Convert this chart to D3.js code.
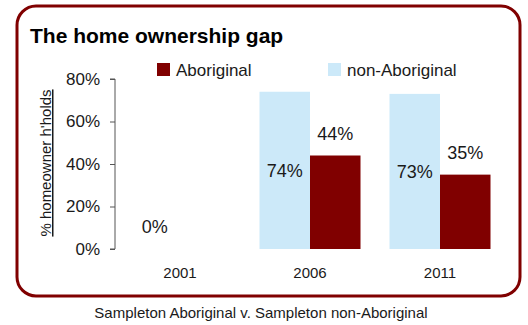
<!DOCTYPE html>
<html>
<head>
<meta charset="utf-8">
<script src="https://cdn.jsdelivr.net/npm/d3@7"></script>
<style>
  html, body { margin: 0; padding: 0; background: #fff; }
  svg { display: block; font-family: "Liberation Sans", Arial, Helvetica, sans-serif; }
</style>
</head>
<body>
<svg id="chart" width="528" height="325"></svg>
<script>
// Census years and home-ownership shares
const years = ["2001", "2006", "2011"];
const nonAboriginal = [0, 0.74, 0.73];
const aboriginal = [0, 0.44, 0.35];
const seriesNames = ["non-Aboriginal", "Aboriginal"];
const yTicks = [0, 0.2, 0.4, 0.6, 0.8];

const colors = { "Aboriginal": "#800000", "non-Aboriginal": "#cce9f9" };
const textColor = "#1a1a1a";

const svg = d3.select("#chart");

// Rounded frame around the chart
svg.append("rect")
  .attr("x", 17).attr("y", 6)
  .attr("width", 503).attr("height", 290)
  .attr("rx", 19).attr("ry", 19)
  .attr("fill", "#fff")
  .attr("stroke", "#800000")
  .attr("stroke-width", 3);

// Title
svg.append("text")
  .attr("x", 30).attr("y", 42.5)
  .attr("font-size", 21).attr("font-weight", "bold")
  .attr("fill", "#000")
  .text("The home ownership gap");

// Scales
const y = d3.scaleLinear().domain([0, 0.8]).range([249, 79]);
const x0 = d3.scaleBand().domain(years).range([115, 505])
  .paddingInner(0.223).paddingOuter(0.1115);
const x1 = d3.scaleBand().domain(seriesNames).range([0, x0.bandwidth()]);

const rows = years.map((yr, i) => ({
  year: yr,
  values: [
    { key: "non-Aboriginal", value: nonAboriginal[i] },
    { key: "Aboriginal", value: aboriginal[i] }
  ]
}));

// Y axis
const yAxis = d3.axisLeft(y)
  .tickValues(yTicks)
  .tickFormat(d3.format(".0%"))
  .tickSize(5)
  .tickPadding(10);

const gy = svg.append("g").attr("transform", "translate(115,0)").call(yAxis);
gy.select(".domain").attr("stroke", "#555").attr("d", "M-5,79H0V249H-5");
gy.selectAll(".tick line").attr("stroke", "#555");
gy.selectAll(".tick text")
  .attr("font-size", 17)
  .attr("fill", textColor)
  .attr("font-family", "Liberation Sans, Arial, sans-serif");

// Y axis title (underlined)
svg.append("text")
  .attr("transform", "translate(51,163) rotate(-90)")
  .attr("text-anchor", "middle")
  .attr("font-size", 15)
  .attr("fill", textColor)
  .attr("text-decoration", "underline")
  .text("% homeowner h'holds");

// Bars
const groups = svg.append("g").selectAll("g")
  .data(rows).join("g")
  .attr("transform", d => `translate(${x0(d.year)},0)`);

groups.selectAll("rect")
  .data(d => d.values).join("rect")
  .attr("x", d => x1(d.key))
  .attr("y", d => y(d.value))
  .attr("width", x1.bandwidth())
  .attr("height", d => y(0) - y(d.value))
  .attr("fill", d => colors[d.key]);

// Value labels: non-Aboriginal centred in its bar, Aboriginal above its bar
const fmt = d3.format(".0%");
groups.selectAll("text.val")
  .data(d => d.values.filter(v => v.key === "non-Aboriginal" || v.value > 0))
  .join("text")
  .attr("class", "val")
  .attr("x", d => x1(d.key) + x1.bandwidth() / 2)
  .attr("y", d => d.key === "non-Aboriginal"
    ? Math.min((y(d.value) + y(0)) / 2, y(0) - 22)
    : y(d.value) - 22)
  .attr("dy", "0.35em")
  .attr("text-anchor", "middle")
  .attr("font-size", 18)
  .attr("fill", textColor)
  .text(d => fmt(d.value));

// X category labels
svg.append("g").selectAll("text")
  .data(years).join("text")
  .attr("x", d => x0(d) + x0.bandwidth() / 2)
  .attr("y", 278)
  .attr("text-anchor", "middle")
  .attr("font-size", 15)
  .attr("fill", textColor)
  .text(d => d);

// Legend
const legendItems = [
  { key: "Aboriginal", sx: 157, tx: 176 },
  { key: "non-Aboriginal", sx: 328, tx: 347 }
];
const lg = svg.append("g").selectAll("g").data(legendItems).join("g");
lg.append("rect")
  .attr("x", d => d.sx).attr("y", 63)
  .attr("width", 13).attr("height", 13)
  .attr("fill", d => colors[d.key]);
lg.append("text")
  .attr("x", d => d.tx).attr("y", 75.5)
  .attr("font-size", 17)
  .attr("fill", textColor)
  .text(d => d.key);

// Caption below the frame
svg.append("text")
  .attr("x", 261).attr("y", 317.5)
  .attr("text-anchor", "middle")
  .attr("font-size", 15)
  .attr("fill", textColor)
  .text("Sampleton Aboriginal v. Sampleton non-Aboriginal");
</script>
</body>
</html>
